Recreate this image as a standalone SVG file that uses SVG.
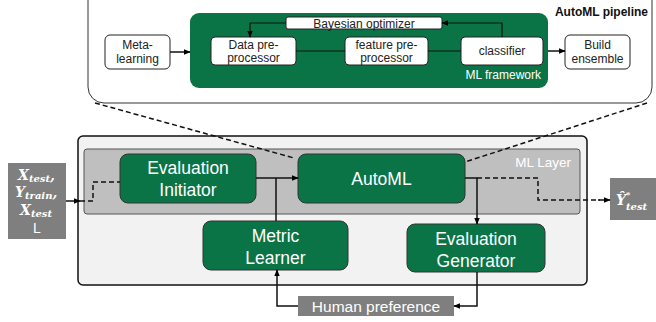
<svg xmlns="http://www.w3.org/2000/svg" width="656" height="322" viewBox="0 0 656 322">
<defs>
<marker id="ah" viewBox="0 0 10 10" refX="9" refY="5" markerWidth="7" markerHeight="7" markerUnits="userSpaceOnUse" orient="auto"><path d="M0,1 L10,5 L0,9 z" fill="#000"/></marker>
<style>
.wb{fill:#fff;stroke:#222;stroke-width:1}
.g{fill:#0b7446;stroke:#333;stroke-width:1}
.t{font-family:"Liberation Sans",Arial,sans-serif;fill:#222;font-size:12px;text-anchor:middle}
.tw{font-family:"Liberation Sans",Arial,sans-serif;fill:#fff;text-anchor:middle}
.m{font-family:"DejaVu Serif","Liberation Serif",serif;font-style:italic;font-weight:bold;fill:#fff}
.ln{fill:none;stroke:#111;stroke-width:1.5}
.dl{fill:none;stroke:#111;stroke-width:1.5;stroke-dasharray:5 3}
.gray{fill:#7f7f7f}
</style>
</defs>
<g id="pipeline">
<rect x="88" y="-20" width="564" height="123" rx="16" fill="#fff" stroke="#333" stroke-width="1"/>
<text x="648" y="16" font-family="Liberation Sans,Arial,sans-serif" font-weight="bold" font-size="12" text-anchor="end" fill="#111">AutoML pipeline</text>
</g>
<g id="ml-framework">
<rect x="190" y="13" width="358" height="75" rx="9" fill="#0b7446"/>
<text x="541" y="79" class="tw" font-size="12" style="text-anchor:end">ML framework</text>
</g>
<g id="meta-learning"><rect class="wb" x="105" y="35" width="65" height="34" rx="5"/><text class="t" x="137.5" y="49">Meta-</text><text class="t" x="137.5" y="63">learning</text></g>
<g id="data-pre"><rect class="wb" x="211" y="37" width="85" height="28" rx="4"/><text class="t" x="253.5" y="49">Data pre-</text><text class="t" x="253.5" y="62">processor</text></g>
<g id="feature-pre"><rect class="wb" x="345" y="37" width="83" height="28" rx="4"/><text class="t" x="386.5" y="49">feature pre-</text><text class="t" x="386.5" y="62">processor</text></g>
<g id="classifier"><rect class="wb" x="461" y="37" width="82" height="28" rx="4"/><text class="t" x="502" y="55">classifier</text></g>
<g id="bayesian"><rect class="wb" x="286" y="17" width="156" height="12" rx="2"/><text class="t" x="364" y="27.5">Bayesian optimizer</text></g>
<g id="build-ensemble"><rect class="wb" x="565" y="35" width="65" height="34" rx="5"/><text class="t" x="597.5" y="49">Build</text><text class="t" x="597.5" y="63">ensemble</text></g>
<g id="main-box"><rect x="78" y="136" width="509" height="149" rx="5" fill="#f2f2f2" stroke="#111" stroke-width="1.5"/></g>
<g id="ml-layer"><rect x="84" y="149" width="496" height="65" rx="3" fill="#bfbfbf" stroke="#555" stroke-width="1"/><text x="571" y="167" class="tw" font-size="13.5" style="text-anchor:end">ML Layer</text></g>
<g id="eval-init"><rect class="g" x="120" y="154" width="136" height="49" rx="8"/><text class="tw" x="188" y="174" font-size="17.5">Evaluation</text><text class="tw" x="188" y="196" font-size="17.5">Initiator</text></g>
<g id="automl"><rect class="g" x="298" y="154" width="167" height="49" rx="8"/><text class="tw" x="381.5" y="185" font-size="17.5">AutoML</text></g>
<g id="metric-learner"><rect class="g" x="203" y="221" width="145" height="49" rx="8"/><text class="tw" x="275.5" y="242" font-size="17.5">Metric</text><text class="tw" x="275.5" y="264" font-size="17.5">Learner</text></g>
<g id="eval-gen"><rect class="g" x="407" y="224" width="138" height="48" rx="8"/><text class="tw" x="476" y="245" font-size="17.5">Evaluation</text><text class="tw" x="476" y="267" font-size="17.5">Generator</text></g>
<g id="input"><rect class="gray" x="8" y="163" width="58" height="76"/>
<text class="m" x="18" y="180" font-size="14">X<tspan font-size="10" dy="2">test</tspan><tspan dy="-2">,</tspan></text>
<text class="m" x="15" y="197" font-size="14">Y<tspan font-size="10" dy="2">train</tspan><tspan dy="-2">,</tspan></text>
<text class="m" x="20" y="215" font-size="14">X<tspan font-size="10" dy="2">test</tspan></text>
<text x="37" y="233" font-family="Liberation Sans,Arial,sans-serif" font-size="14" fill="#fff" text-anchor="middle">L</text>
</g>
<g id="output"><rect class="gray" x="610" y="178" width="46" height="42"/>
<text class="m" x="616" y="205" font-size="14">Ŷ</text>
<text class="m" x="626" y="197" font-size="8">*</text>
<text class="m" x="626" y="210" font-size="10">test</text></g>
<g id="human"><rect class="gray" x="298" y="296" width="156" height="20"/><text class="tw" x="376" y="312" font-size="15.5">Human preference</text></g>
<g id="connectors">
<line class="ln" x1="170" y1="52" x2="190" y2="52" marker-end="url(#ah)"/>
<line class="ln" x1="548" y1="51" x2="565" y2="51" marker-end="url(#ah)"/>
<line x1="296" y1="51" x2="345" y2="51" stroke="#111" stroke-width="1.2"/>
<line x1="428" y1="51" x2="461" y2="51" stroke="#111" stroke-width="1.2"/>
<polyline points="502,37 502,23 442,23" fill="none" stroke="#111" stroke-width="1.2" marker-end="url(#ah)"/>
<polyline points="286,23 250,23 250,37" fill="none" stroke="#111" stroke-width="1.2" marker-end="url(#ah)"/>
<line class="dl" x1="95" y1="103" x2="294" y2="158"/>
<line class="dl" x1="647" y1="103" x2="465" y2="162"/>
<line class="ln" x1="66" y1="201" x2="80" y2="201" marker-end="url(#ah)"/>
<polyline class="dl" points="80,201 93,201 93,182 120,182"/>
<line class="ln" x1="256" y1="178" x2="298" y2="178" marker-end="url(#ah)"/>
<line class="ln" x1="276" y1="221" x2="276" y2="178"/>
<polyline class="ln" points="465,178 477,178 477,224" marker-end="url(#ah)"/>
<polyline class="dl" points="477,178 538,178 538,200 600,200"/>
<line class="ln" x1="598" y1="200" x2="610" y2="200" marker-end="url(#ah)"/>
<polyline class="ln" points="477,272 477,306 454,306" marker-end="url(#ah)"/>
<polyline class="ln" points="298,306 277,306 277,270" marker-end="url(#ah)"/>
</g>
</svg>
